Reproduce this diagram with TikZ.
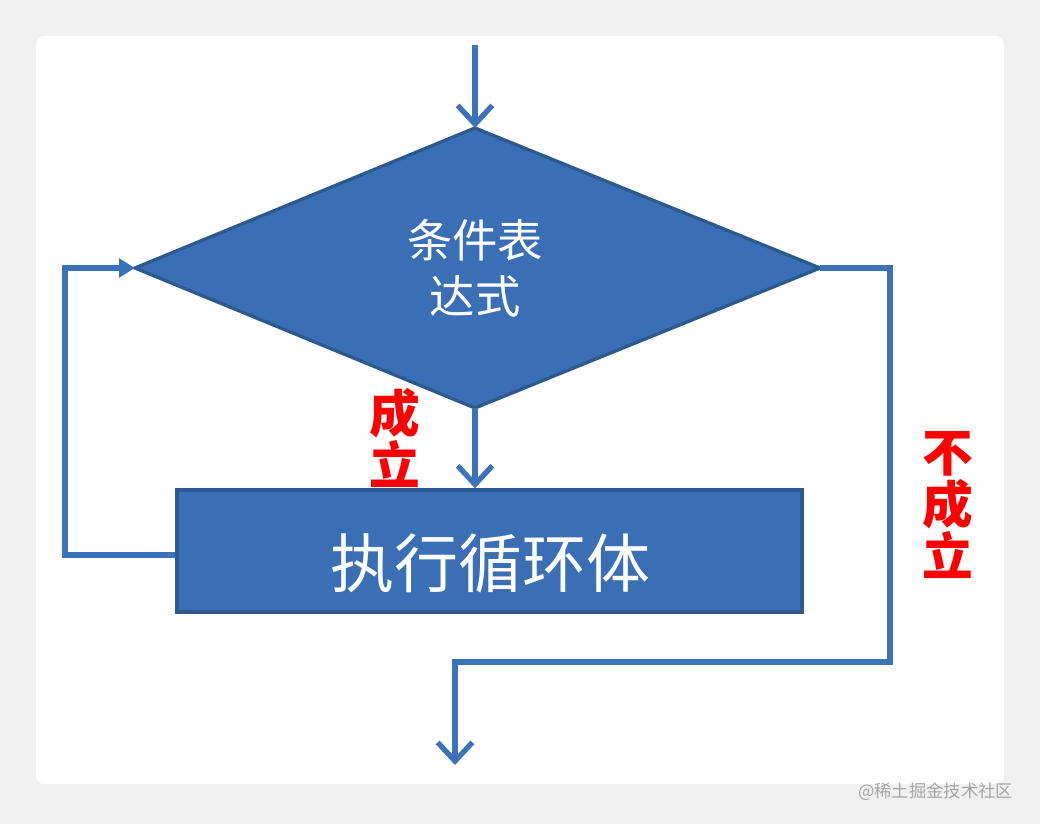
\documentclass[tikz,border=0pt]{standalone}
\usepackage{fontspec}
\setmainfont{Noto Sans CJK SC}
\usetikzlibrary{arrows.meta}
\definecolor{fillb}{HTML}{3A6FB5}
\definecolor{edgeb}{HTML}{2C5A8E}
\definecolor{lineb}{HTML}{3C72B8}
\tikzset{
 flow/.style={draw=lineb,line width=4pt},
 arr/.style={flow,-{Straight Barb[length=14pt,width=26pt,line width=4pt]}},
 tri/.style={flow,-{Triangle[length=12pt,width=14pt]}},
 redlab/.style={text=red,font=\fontsize{38}{39}\selectfont\bfseries,align=center}
}
\begin{document}
\begin{tikzpicture}[x=0.75pt,y=-0.75pt]
\useasboundingbox (0,0) rectangle (1040,824);
\fill[gray!12] (0,0) rectangle (1040,824);
\fill[white,rounded corners=6pt] (36,36) rectangle (1004,784);
\node[draw=edgeb,line width=2.5pt,fill=fillb,minimum width=625*0.75pt,minimum height=122*0.75pt,inner sep=0pt] (body) at (489.5,551) {};
\node[text=white,font=\fontsize{48}{50}\selectfont] at (490,563) {执行循环体};
\draw[draw=edgeb,line width=2.5pt,fill=fillb] (475,128) coordinate (dt) -- (820,268) coordinate (dr) -- (475,408) coordinate (db) -- (135,268) coordinate (dl) -- cycle;
\node[text=white,font=\fontsize{34}{42}\selectfont,align=center] (cond) at (475,268) {条件表\\达式};
\coordinate (start) at (475,45);
\draw[arr] (start) -- (dt);
\draw[arr] (db) -- (body.north -| db);
\draw[tri] (body.west |- 0,555) -- (65,555) -- (65,268) -- (dl);
\coordinate (endp) at (455,765);
\draw[arr] (dr) -- (890,268) -- (890,662) -- (455,662) -- (endp);
\node[redlab] (yes) at (395,438) {成\\立};
\node[redlab] (no) at (948,505) {不\\成\\立};
\node[text=gray!70,font=\fontsize{13}{15}\selectfont,anchor=east] (wm) at (1018,792) {@稀土掘金技术社区};
\end{tikzpicture}
\end{document}
